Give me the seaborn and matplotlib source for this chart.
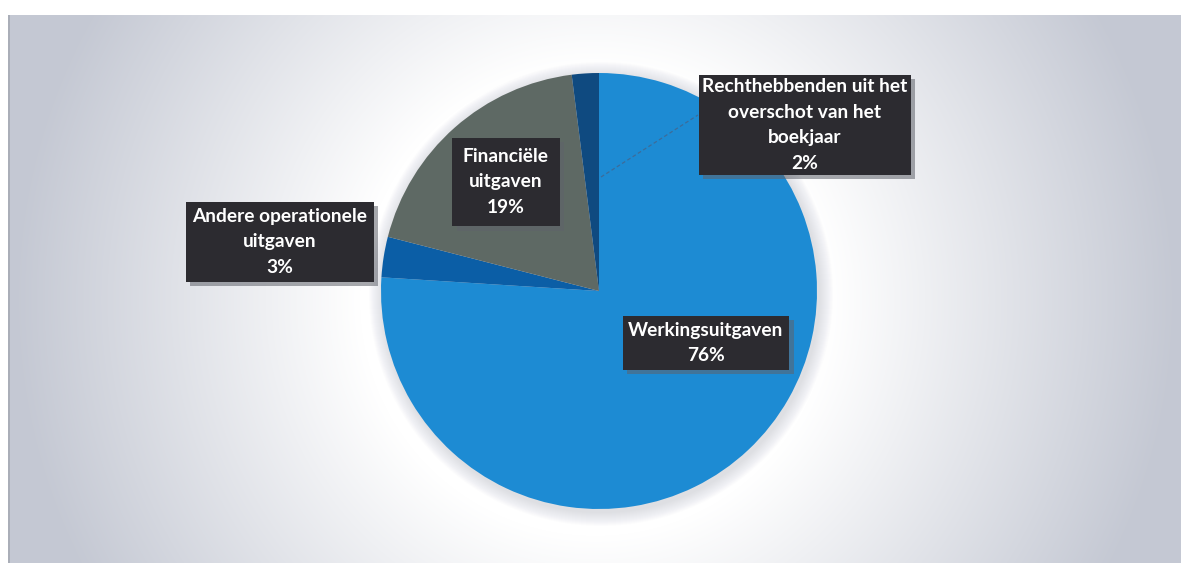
import numpy as np
import matplotlib
matplotlib.use("Agg")
import matplotlib.pyplot as plt
import matplotlib.patheffects as pe
from matplotlib.patches import Circle
import seaborn as sns

# ---- data -------------------------------------------------------------
categories = [
    "Werkingsuitgaven",
    "Andere operationele\nuitgaven",
    "Financiële\nuitgaven",
    "Rechthebbenden uit het\noverschot van het\nboekjaar",
]
shares = [76, 3, 19, 2]

# ---- styling / layout -------------------------------------------------
slice_colors = ["#1d8bd3", "#0b5ea6", "#5e6964", "#0f4a80"]
# label box centres (x from left, y from top, in pixels) and box padding
label_xy = [(706, 343), (280, 242), (506, 182), (805, 125)]
label_pad = [0.30, 0.33, 0.55, 0.18]

sns.set_theme(style="white")
plt.rcParams["font.family"] = ["Lato", "DejaVu Sans"]

W, H = 1181, 563
fig = plt.figure(figsize=(W / 100, H / 100), dpi=100)

# soft radial backdrop of the chart area
yy, xx = np.mgrid[0:H, 0:W]
d = np.sqrt(((xx - 595) / 560.0) ** 2 + ((yy - 300) / 560.0) ** 2)
s = np.clip((d - 0.42) / 0.62, 0, 1)
white = np.array([1.0, 1.0, 1.0])
grey = np.array([196, 200, 211]) / 255.0
img = white[None, None, :] * (1 - s[..., None]) + grey[None, None, :] * s[..., None]
img[:15, :, :] = 1.0
img[:, :8, :] = 1.0
img[15:, 8:10, :] = np.array([170, 174, 184]) / 255.0

bg = fig.add_axes([0, 0, 1, 1])
bg.imshow(img, extent=[0, W, 0, H], origin="upper", aspect="auto")
bg.axis("off")

ax = fig.add_axes([0, 0, 1, 1])
ax.patch.set_alpha(0)

cx, cy, r = 599, H - 291, 218

# faint drop shadow under the pie
for i in range(14):
    ax.add_patch(Circle((cx + 2, cy - 3), r + 14 - i, color="#8a8f9c",
                        alpha=0.018, lw=0, zorder=1))

wedges, _ = ax.pie(
    shares,
    colors=slice_colors,
    startangle=90,
    counterclock=False,
    center=(cx, cy),
    radius=r,
    wedgeprops=dict(linewidth=0),
)
for w in wedges:
    w.set_zorder(2)

ax.set_xlim(0, W)
ax.set_ylim(0, H)
ax.set_aspect("equal", adjustable="box")
ax.axis("off")

# leader line for the smallest slice
ax.plot([601, 698], [H - 177, H - 115], ls=(0, (3, 2)), lw=0.9,
        color="#3d6c99", zorder=3)

for cat, val, (lx, ly), pad in zip(categories, shares, label_xy, label_pad):
    t = ax.text(lx, H - ly, f"{cat}\n{val}%", ha="center", va="center",
                fontsize=13.8, fontweight="bold", linespacing=1.6,
                color="white", zorder=5,
                bbox=dict(boxstyle=f"square,pad={pad}", fc="#2c2b30", ec="none"))
    t.get_bbox_patch().set_path_effects(
        [pe.SimplePatchShadow(offset=(3, -3), shadow_rgbFace="#5f626a", alpha=0.55),
         pe.Normal()])

fig.savefig("out.png", dpi=100)
